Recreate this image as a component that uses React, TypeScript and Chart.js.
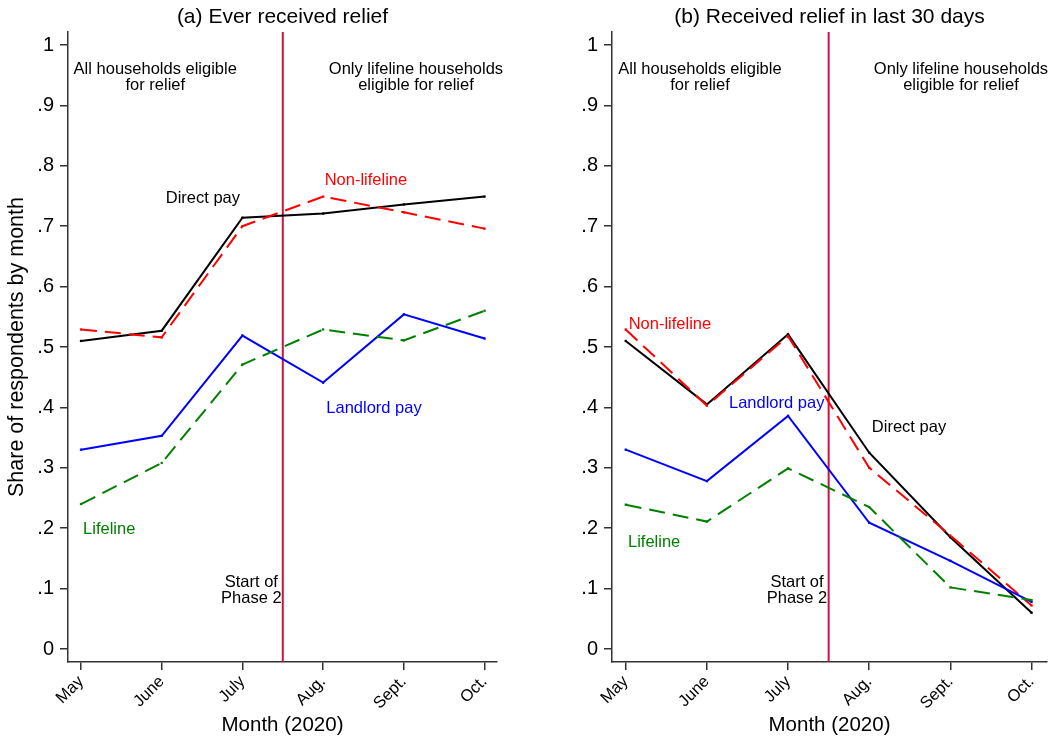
import React, { useEffect, useRef } from "react";
import { Chart, registerables } from "chart.js";

Chart.register(...registerables);

const FONT = "'Liberation Sans', Arial, Helvetica, sans-serif";

const months = ["May", "June", "July", "Aug.", "Sept.", "Oct."];
const yTickValues = [0, 0.1, 0.2, 0.3, 0.4, 0.5, 0.6, 0.7, 0.8, 0.9, 1];
const yTickLabels = ["0", ".1", ".2", ".3", ".4", ".5", ".6", ".7", ".8", ".9", "1"];

// (a) Ever received relief
const everDirect = [0.51, 0.527, 0.714, 0.721, 0.736, 0.749];
const everNonLifeline = [0.529, 0.516, 0.7, 0.749, 0.723, 0.696];
const everLandlord = [0.33, 0.353, 0.519, 0.441, 0.554, 0.514];
const everLifeline = [0.24, 0.308, 0.471, 0.529, 0.511, 0.56];

// (b) Received relief in last 30 days
const recentDirect = [0.51, 0.405, 0.521, 0.325, 0.185, 0.06];
const recentNonLifeline = [0.529, 0.403, 0.518, 0.3, 0.188, 0.072];
const recentLandlord = [0.33, 0.278, 0.386, 0.209, 0.146, 0.078];
const recentLifeline = [0.239, 0.211, 0.299, 0.235, 0.102, 0.081];

const phase2Start = 2.5;

const COLORS = {
  direct: "#000000",
  nonLifeline: "#ff0000",
  landlord: "#0000ff",
  lifeline: "#008000",
  phase: "#d0103f",
  text: "#000000",
};

type Note = { lines: string[]; x: number; y: number; color: string; align?: CanvasTextAlign };

const everNotes: Note[] = [
  { lines: ["All households eligible", "for relief"], x: 0.92, y: 0.947, color: COLORS.text },
  { lines: ["Only lifeline households", "eligible for relief"], x: 4.15, y: 0.947, color: COLORS.text },
  { lines: ["Direct pay"], x: 1.51, y: 0.746, color: COLORS.direct },
  { lines: ["Non-lifeline"], x: 3.53, y: 0.776, color: COLORS.nonLifeline },
  { lines: ["Landlord pay"], x: 3.63, y: 0.398, color: COLORS.landlord },
  { lines: ["Lifeline"], x: 0.35, y: 0.198, color: COLORS.lifeline },
  { lines: ["Start of", "Phase 2"], x: 2.11, y: 0.097, color: COLORS.text },
];

const recentNotes: Note[] = [
  { lines: ["All households eligible", "for relief"], x: 0.915, y: 0.947, color: COLORS.text },
  { lines: ["Only lifeline households", "eligible for relief"], x: 4.13, y: 0.947, color: COLORS.text },
  { lines: ["Non-lifeline"], x: 0.545, y: 0.538, color: COLORS.nonLifeline },
  { lines: ["Landlord pay"], x: 1.86, y: 0.407, color: COLORS.landlord },
  { lines: ["Direct pay"], x: 3.49, y: 0.367, color: COLORS.direct },
  { lines: ["Lifeline"], x: 0.35, y: 0.177, color: COLORS.lifeline },
  { lines: ["Start of", "Phase 2"], x: 2.11, y: 0.097, color: COLORS.text },
];

type PanelProps = {
  title: string;
  direct: number[];
  nonLifeline: number[];
  landlord: number[];
  lifeline: number[];
  notes: Note[];
  showYTitle: boolean;
  yAxisWidth: number;
  padRight: number;
  xMin: number;
  xMax: number;
  left: number;
  width: number;
};

function toPoints(values: number[]) {
  return values.map((v, i) => ({ x: i, y: v }));
}

function Panel(props: PanelProps) {
  const ref = useRef<HTMLCanvasElement | null>(null);

  useEffect(() => {
    if (!ref.current) return;
    const overlay = {
      id: "overlay",
      beforeDatasetsDraw(chart: any) {
        const { ctx, chartArea, scales } = chart;
        const px = scales.x.getPixelForValue(phase2Start);
        ctx.save();
        ctx.strokeStyle = COLORS.phase;
        ctx.lineWidth = 2;
        ctx.beginPath();
        ctx.moveTo(px, chartArea.top);
        ctx.lineTo(px, chartArea.bottom);
        ctx.stroke();
        ctx.restore();
      },
      afterDraw(chart: any) {
        const { ctx, chartArea, scales } = chart;
        ctx.save();
        ctx.textAlign = "center";
        ctx.textBaseline = "middle";
        ctx.fillStyle = "#000";
        ctx.font = `21px ${FONT}`;
        ctx.fillText(props.title, (chartArea.left + chartArea.right) / 2, 17);
        ctx.font = `16.5px ${FONT}`;
        const lh = 16;
        for (const n of props.notes) {
          const cx = scales.x.getPixelForValue(n.x);
          const cy = scales.y.getPixelForValue(n.y);
          ctx.fillStyle = n.color;
          ctx.textAlign = n.align || "center";
          const start = cy - ((n.lines.length - 1) * lh) / 2;
          n.lines.forEach((line, i) => ctx.fillText(line, cx, start + i * lh));
        }
        ctx.restore();
      },
    };

    const mk = (label: string, values: number[], color: string, dash: number[]) => ({
      label,
      data: toPoints(values),
      borderColor: color,
      backgroundColor: color,
      borderWidth: 2,
      borderDash: dash,
      pointRadius: 1.6,
      pointStyle: "rect",
      pointBorderWidth: 0,
      tension: 0,
    });

    const chart = new Chart(ref.current, {
      type: "line",
      data: {
        datasets: [
          mk("Lifeline", props.lifeline, COLORS.lifeline, [16, 8]),
          mk("Landlord pay", props.landlord, COLORS.landlord, []),
          mk("Non-lifeline", props.nonLifeline, COLORS.nonLifeline, [16, 8]),
          mk("Direct pay", props.direct, COLORS.direct, []),
        ],
      },
      options: {
        animation: false,
        responsive: false,
        maintainAspectRatio: false,
        layout: { padding: { left: 0, top: 32, right: props.padRight, bottom: 0 } },
        plugins: {
          legend: { display: false },
          tooltip: { enabled: false },
          title: { display: false },
        },
        scales: {
          x: {
            type: "linear",
            min: props.xMin,
            max: props.xMax,
            afterBuildTicks(scale: any) {
              scale.ticks = months.map((_, i) => ({ value: i }));
            },
            afterFit(scale: any) {
              scale.height = 78;
              scale.paddingLeft = 0;
              scale.paddingRight = 0;
            },
            grid: {
              display: true,
              drawOnChartArea: false,
              drawTicks: true,
              tickLength: 8,
              color: "#333",
              lineWidth: 1.5,
            },
            border: { display: true, color: "#333", width: 1.5 },
            ticks: {
              autoSkip: false,
              maxRotation: 45,
              minRotation: 45,
              padding: 2,
              color: "#000",
              font: { family: FONT, size: 16.5 },
              callback: (v: any) => months[Math.round(Number(v))] ?? "",
            },
            title: {
              display: true,
              text: "Month (2020)",
              color: "#000",
              font: { family: FONT, size: 20.5 },
              padding: { top: 0, bottom: 2 },
            },
          },
          y: {
            type: "linear",
            min: -0.0215,
            max: 1.0215,
            afterBuildTicks(scale: any) {
              scale.ticks = yTickValues.map((v) => ({ value: v }));
            },
            afterFit(scale: any) {
              scale.width = props.yAxisWidth;
            },
            grid: {
              display: true,
              drawOnChartArea: false,
              drawTicks: true,
              tickLength: 8,
              color: "#333",
              lineWidth: 1.5,
            },
            border: { display: true, color: "#333", width: 1.5 },
            ticks: {
              padding: 6,
              color: "#000",
              font: { family: FONT, size: 20 },
              callback: (v: any) => {
                const idx = yTickValues.findIndex((t) => Math.abs(t - Number(v)) < 1e-6);
                return idx >= 0 ? yTickLabels[idx] : "";
              },
            },
            title: {
              display: props.showYTitle,
              text: "Share of respondents by month",
              color: "#000",
              font: { family: FONT, size: 21.5 },
              padding: { top: 4, bottom: 0 },
            },
          },
        },
      } as any,
      plugins: [overlay],
    });
    return () => chart.destroy();
  }, []);

  return (
    <div style={{ position: "absolute", left: props.left, top: 0, width: props.width, height: 740 }}>
      <canvas ref={ref} width={props.width} height={740} style={{ width: props.width, height: 740, display: "block" }} />
    </div>
  );
}

export default function App() {
  return (
    <div style={{ position: "fixed", left: 0, top: 0, width: 1056, height: 740, background: "#fff", overflow: "hidden" }}>
      <Panel
        title="(a) Ever received relief"
        direct={everDirect}
        nonLifeline={everNonLifeline}
        landlord={everLandlord}
        lifeline={everLifeline}
        notes={everNotes}
        showYTitle={true}
        yAxisWidth={68}
        padRight={33}
        xMin={-0.161}
        xMax={5.154}
        left={0}
        width={530}
      />
      <Panel
        title="(b) Received relief in last 30 days"
        direct={recentDirect}
        nonLifeline={recentNonLifeline}
        landlord={recentLandlord}
        lifeline={recentLifeline}
        notes={recentNotes}
        showYTitle={false}
        yAxisWidth={82}
        padRight={9}
        xMin={-0.169}
        xMax={5.19}
        left={530}
        width={526}
      />
    </div>
  );
}
